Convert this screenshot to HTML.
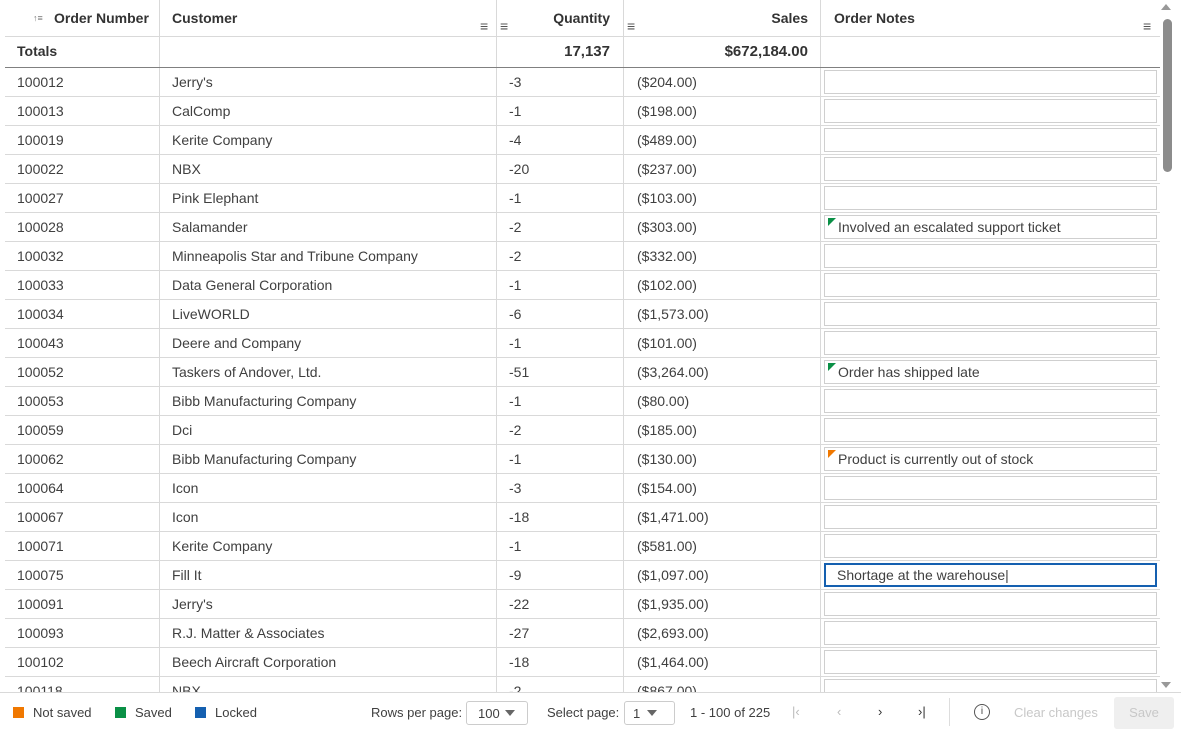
<!DOCTYPE html>
<html><head><meta charset="utf-8"><style>
body{margin:0;width:1181px;height:737px;overflow:hidden;background:#fff;font-family:"Liberation Sans",sans-serif;font-size:14px;color:#404040;position:relative}
.a{position:absolute}
.vl{position:absolute;top:0;width:1px;height:692px;background:#d9d9d9}
.r{position:absolute;left:5px;width:1155px;height:29px;border-bottom:1px solid #d9d9d9;box-sizing:border-box}
.r span{position:absolute;top:6px;white-space:nowrap}
.c1{left:12px}.c2{left:167px}.c3{left:504px}.c4{left:632px}
.nb{position:absolute;left:819px;top:2px;width:333px;height:24px;border:1px solid #cfcfcf;box-sizing:border-box;background:#fff}
.nb i{position:absolute;left:3px;top:2px;width:0;height:0;border-top:8px solid #0a9046;border-right:8px solid transparent}
.nb b{font-weight:normal;position:absolute;left:13px;top:3px;color:#404040;white-space:nowrap}
.h{font-weight:bold;color:#333;white-space:nowrap}
.rt{text-align:right}
.mn{position:absolute;font-size:14px;color:#555}
.f{font-size:13px;color:#404040}
</style></head><body>
<div class="vl" style="left:159px"></div><div class="vl" style="left:496px"></div><div class="vl" style="left:623px"></div><div class="vl" style="left:820px"></div>
<div class="a" style="left:5px;top:36px;width:1155px;height:1px;background:#d9d9d9"></div>
<div class="a" style="left:5px;top:67px;width:1155px;height:1px;background:#808080"></div>
<div class="a" style="left:33px;top:13px;font-size:9px;color:#777">↑≡</div>
<div class="a h" style="left:54px;top:10px">Order Number</div>
<div class="a h" style="left:172px;top:10px">Customer</div>
<div class="mn" style="left:480px;top:18px">≡</div><div class="mn" style="left:500px;top:18px">≡</div>
<div class="a h rt" style="left:500px;width:110px;top:10px">Quantity</div>
<div class="mn" style="left:627px;top:18px">≡</div>
<div class="a h rt" style="left:640px;width:168px;top:10px">Sales</div>
<div class="a h" style="left:834px;top:10px">Order Notes</div>
<div class="mn" style="left:1143px;top:18px">≡</div>
<div class="a h" style="left:17px;top:43px">Totals</div>
<div class="a h rt" style="left:500px;width:110px;top:43px;font-size:15px">17,137</div>
<div class="a h rt" style="left:640px;width:168px;top:43px;font-size:15px">$672,184.00</div>
<div class="a" style="left:1161px;top:4px;width:0;height:0;border-left:5px solid transparent;border-right:5px solid transparent;border-bottom:6px solid #999"></div>
<div class="a" style="left:1163px;top:19px;width:9px;height:153px;background:#8c8c8c;border-radius:5px"></div>
<div class="a" style="left:1161px;top:682px;width:0;height:0;border-left:5px solid transparent;border-right:5px solid transparent;border-top:6px solid #999"></div>

<div class="r" style="top:68px"><span class="c1">100012</span><span class="c2">Jerry's</span><span class="c3">-3</span><span class="c4">($204.00)</span><div class="nb"></div></div>
<div class="r" style="top:97px"><span class="c1">100013</span><span class="c2">CalComp</span><span class="c3">-1</span><span class="c4">($198.00)</span><div class="nb"></div></div>
<div class="r" style="top:126px"><span class="c1">100019</span><span class="c2">Kerite Company</span><span class="c3">-4</span><span class="c4">($489.00)</span><div class="nb"></div></div>
<div class="r" style="top:155px"><span class="c1">100022</span><span class="c2">NBX</span><span class="c3">-20</span><span class="c4">($237.00)</span><div class="nb"></div></div>
<div class="r" style="top:184px"><span class="c1">100027</span><span class="c2">Pink Elephant</span><span class="c3">-1</span><span class="c4">($103.00)</span><div class="nb"></div></div>
<div class="r" style="top:213px"><span class="c1">100028</span><span class="c2">Salamander</span><span class="c3">-2</span><span class="c4">($303.00)</span><div class="nb"><i></i><b>Involved an escalated support ticket</b></div></div>
<div class="r" style="top:242px"><span class="c1">100032</span><span class="c2">Minneapolis Star and Tribune Company</span><span class="c3">-2</span><span class="c4">($332.00)</span><div class="nb"></div></div>
<div class="r" style="top:271px"><span class="c1">100033</span><span class="c2">Data General Corporation</span><span class="c3">-1</span><span class="c4">($102.00)</span><div class="nb"></div></div>
<div class="r" style="top:300px"><span class="c1">100034</span><span class="c2">LiveWORLD</span><span class="c3">-6</span><span class="c4">($1,573.00)</span><div class="nb"></div></div>
<div class="r" style="top:329px"><span class="c1">100043</span><span class="c2">Deere and Company</span><span class="c3">-1</span><span class="c4">($101.00)</span><div class="nb"></div></div>
<div class="r" style="top:358px"><span class="c1">100052</span><span class="c2">Taskers of Andover, Ltd.</span><span class="c3">-51</span><span class="c4">($3,264.00)</span><div class="nb"><i></i><b>Order has shipped late</b></div></div>
<div class="r" style="top:387px"><span class="c1">100053</span><span class="c2">Bibb Manufacturing Company</span><span class="c3">-1</span><span class="c4">($80.00)</span><div class="nb"></div></div>
<div class="r" style="top:416px"><span class="c1">100059</span><span class="c2">Dci</span><span class="c3">-2</span><span class="c4">($185.00)</span><div class="nb"></div></div>
<div class="r" style="top:445px"><span class="c1">100062</span><span class="c2">Bibb Manufacturing Company</span><span class="c3">-1</span><span class="c4">($130.00)</span><div class="nb"><i style="border-top-color:#f07800"></i><b>Product is currently out of stock</b></div></div>
<div class="r" style="top:474px"><span class="c1">100064</span><span class="c2">Icon</span><span class="c3">-3</span><span class="c4">($154.00)</span><div class="nb"></div></div>
<div class="r" style="top:503px"><span class="c1">100067</span><span class="c2">Icon</span><span class="c3">-18</span><span class="c4">($1,471.00)</span><div class="nb"></div></div>
<div class="r" style="top:532px"><span class="c1">100071</span><span class="c2">Kerite Company</span><span class="c3">-1</span><span class="c4">($581.00)</span><div class="nb"></div></div>
<div class="r" style="top:561px"><span class="c1">100075</span><span class="c2">Fill It</span><span class="c3">-9</span><span class="c4">($1,097.00)</span><div class="nb" style="border:2px solid #1560b0"><b style="left:11px;top:2px">Shortage at the warehouse|</b></div></div>
<div class="r" style="top:590px"><span class="c1">100091</span><span class="c2">Jerry's</span><span class="c3">-22</span><span class="c4">($1,935.00)</span><div class="nb"></div></div>
<div class="r" style="top:619px"><span class="c1">100093</span><span class="c2">R.J. Matter &amp; Associates</span><span class="c3">-27</span><span class="c4">($2,693.00)</span><div class="nb"></div></div>
<div class="r" style="top:648px"><span class="c1">100102</span><span class="c2">Beech Aircraft Corporation</span><span class="c3">-18</span><span class="c4">($1,464.00)</span><div class="nb"></div></div>
<div class="a" style="left:0;top:677px;width:1160px;height:15px;overflow:hidden"><div class="r" style="top:0"><span class="c1">100118</span><span class="c2">NBX</span><span class="c3">-2</span><span class="c4">($867.00)</span><div class="nb"></div></div></div>

<div class="a" style="left:0;top:692px;width:1181px;height:1px;background:#d9d9d9"></div>
<div class="a" style="left:13px;top:707px;width:11px;height:11px;background:#f07800"></div><div class="a f" style="left:33px;top:705px">Not saved</div>
<div class="a" style="left:115px;top:707px;width:11px;height:11px;background:#0a9046"></div><div class="a f" style="left:135px;top:705px">Saved</div>
<div class="a" style="left:195px;top:707px;width:11px;height:11px;background:#1560b0"></div><div class="a f" style="left:215px;top:705px">Locked</div>
<div class="a f" style="left:371px;top:705px">Rows per page:</div>
<div class="a f" style="left:466px;top:701px;width:62px;height:24px;border:1px solid #ccc;border-radius:3px;box-sizing:border-box"><span class="a" style="left:11px;top:4px">100</span><span class="a" style="left:38px;top:8px;border-left:5px solid transparent;border-right:5px solid transparent;border-top:6px solid #666"></span></div>
<div class="a f" style="left:547px;top:705px">Select page:</div>
<div class="a f" style="left:624px;top:701px;width:51px;height:24px;border:1px solid #ccc;border-radius:3px;box-sizing:border-box"><span class="a" style="left:8px;top:4px">1</span><span class="a" style="left:22px;top:8px;border-left:5px solid transparent;border-right:5px solid transparent;border-top:6px solid #666"></span></div>
<div class="a f" style="left:690px;top:705px">1 - 100 of 225</div>
<div class="a f" style="left:792px;top:704px;color:#bbb">|‹</div>
<div class="a f" style="left:837px;top:704px;color:#bbb">‹</div>
<div class="a f" style="left:878px;top:704px;color:#333">›</div>
<div class="a f" style="left:918px;top:704px;color:#333">›|</div>
<div class="a" style="left:949px;top:698px;width:1px;height:28px;background:#ddd"></div>
<div class="a" style="left:974px;top:704px;width:14px;height:14px;border:1px solid #555;border-radius:50%;font-size:10px;text-align:center;line-height:14px">i</div>
<div class="a f" style="left:1014px;top:705px;color:#c8c8c8">Clear changes</div>
<div class="a f" style="left:1114px;top:697px;width:60px;height:32px;background:#efefef;border-radius:3px;color:#c8c8c8;text-align:center;line-height:32px">Save</div>
</body></html>
